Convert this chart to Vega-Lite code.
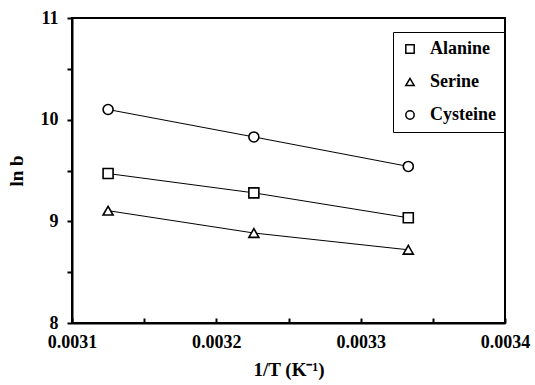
{
  "$schema": "https://vega.github.io/schema/vega-lite/v6.json",
  "autosize": {"type": "none"},
  "padding": {"left": 72, "top": 18, "right": 30, "bottom": 62},
  "width": 433,
  "height": 305,
  "background": "white",
  "data": {"values": [
    {"series": "Alanine", "invT": 0.003125, "lnb": 9.47},
    {"series": "Alanine", "invT": 0.003226, "lnb": 9.28},
    {"series": "Alanine", "invT": 0.003333, "lnb": 9.035},
    {"series": "Serine", "invT": 0.003125, "lnb": 9.105},
    {"series": "Serine", "invT": 0.003226, "lnb": 8.885},
    {"series": "Serine", "invT": 0.003333, "lnb": 8.72},
    {"series": "Cysteine", "invT": 0.003125, "lnb": 10.1},
    {"series": "Cysteine", "invT": 0.003226, "lnb": 9.83},
    {"series": "Cysteine", "invT": 0.003333, "lnb": 9.54}
  ]},
  "config": {
    "view": {"stroke": "black", "strokeWidth": 2},
    "font": "Liberation Serif",
    "axis": {
      "domainColor": "black", "domainWidth": 2, "tickColor": "black", "tickWidth": 2,
      "labelFont": "Liberation Serif", "labelFontWeight": "bold", "labelFontSize": 18, "labelColor": "black",
      "titleFont": "Liberation Serif", "titleFontWeight": "bold", "titleFontSize": 19, "titleColor": "black",
      "grid": false
    }
  },
  "encoding": {
    "x": {
      "field": "invT", "type": "quantitative",
      "scale": {"domain": [0.0031, 0.0034], "nice": false, "zero": false},
      "axis": {
        "title": "1/T (K⁻¹)",
        "values": [0.0031, 0.00315, 0.0032, 0.00325, 0.0033, 0.00335, 0.0034],
        "labelExpr": "(round(datum.value*1e5) % 10 == 0) ? format(datum.value, '.4f') : ''",
        "tickSize": -5, "labelPadding": 15, "titlePadding": 9, "labelFlush": false
      }
    },
    "y": {
      "field": "lnb", "type": "quantitative",
      "scale": {"domain": [8, 11], "nice": false, "zero": false},
      "axis": {
        "title": "ln b",
        "values": [8, 8.5, 9, 9.5, 10, 10.5, 11],
        "labelExpr": "(datum.value % 1 == 0) ? format(datum.value, 'd') : ''",
        "tickSize": 5, "labelPadding": 9, "titlePadding": 14
      }
    }
  },
  "layer": [
    {
      "mark": {"type": "line", "color": "black", "strokeWidth": 1},
      "encoding": {"detail": {"field": "series"}}
    },
    {
      "mark": {"type": "point", "filled": false, "color": "black", "strokeWidth": 1.6, "size": 100, "opacity": 1, "fill": "white"},
      "encoding": {
        "shape": {
          "field": "series", "type": "nominal",
          "scale": {"domain": ["Alanine", "Serine", "Cysteine"], "range": ["square", "triangle-up", "circle"]},
          "legend": {
            "title": null, "orient": "none", "legendX": 321, "legendY": 14,
            "direction": "vertical",
            "strokeColor": "black", "fillColor": "white",
            "padding": 8, "rowPadding": 15,
            "labelFont": "Liberation Serif", "labelFontWeight": "bold", "labelFontSize": 18, "labelColor": "black",
            "symbolSize": 70,
            "labelOffset": 11,
            "encode": {
              "legend": {"update": {"strokeWidth": {"value": 2}}},
              "symbols": {"update": {"stroke": {"value": "black"}, "fill": {"value": "white"}, "strokeWidth": {"value": 1.8}, "opacity": {"value": 1}}}
            }
          }
        }
      }
    }
  ]
}
